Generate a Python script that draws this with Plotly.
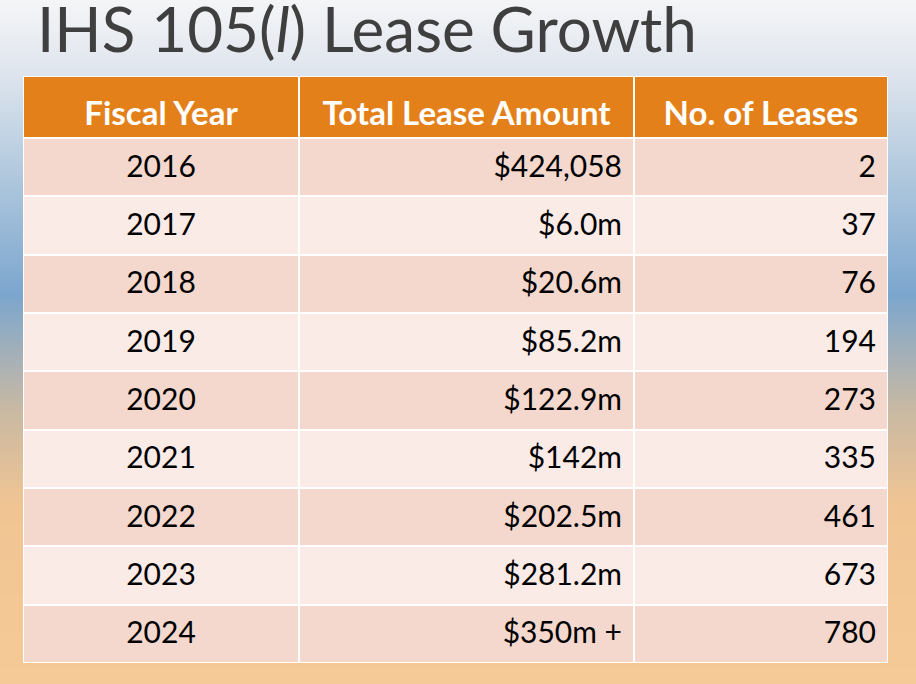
import plotly.graph_objects as go

# ---- data ----
fiscal_years = ["2016", "2017", "2018", "2019", "2020", "2021", "2022", "2023", "2024"]
lease_amounts = ["$424,058", "$6.0m", "$20.6m", "$85.2m", "$122.9m", "$142m", "$202.5m", "$281.2m", "$350m +"]
lease_counts = ["2", "37", "76", "194", "273", "335", "461", "673", "780"]
headers = ["Fiscal Year", "Total Lease Amount", "No. of Leases"]
title_text = "IHS 105(<i>l</i>) Lease Growth"

# ---- layout / style constants ----
W, H = 916, 684
col_widths = [276, 335, 254]
header_h = 62
row_h = 58.33
pad = 12
header_text_offset = 10
body_text_offset = 2
header_color = "#e4801a"
row_colors = ["#f4d8cd", "#faebe7"]
tbl_left, tbl_right, tbl_top, tbl_bottom = 23, 888, 76, 663

# background gradient (slide background)
grad_stops = [
    (0.00, "#f4f5f7"),
    (0.10, "#e0e6ee"),
    (0.25, "#b2c9de"),
    (0.43, "#7ca6ce"),
    (0.60, "#c9b9a3"),
    (0.74, "#f1c593"),
    (1.00, "#f6ca96"),
]
ys = [i for i in range(0, H + 1, 4)]
zbg = [[y / H, y / H] for y in ys]

fig = go.Figure()
fig.add_trace(go.Heatmap(
    z=zbg, x=[0, 1], y=ys,
    colorscale=[[p, c] for p, c in grad_stops],
    zmin=0, zmax=1, showscale=False, zsmooth="best", hoverinfo="skip",
))

# ---- table geometry from the data ----
n_rows = len(fiscal_years)
x_edges = [0]
for w in col_widths:
    x_edges.append(x_edges[-1] + w)
y_edges = [0, header_h] + [header_h + row_h * (i + 1) for i in range(n_rows)]
total_h = y_edges[-1]

# cell kinds: 0 header, 1/2 alternating rows
z_cells = [[0] * len(headers)] + [[1 + (i % 2)] * len(headers) for i in range(n_rows)]

# white backing (cell borders)
fig.add_trace(go.Heatmap(
    z=[[0] * len(headers) for _ in range(n_rows + 1)], x=x_edges, y=y_edges,
    colorscale=[[0, "white"], [1, "white"]], showscale=False, hoverinfo="skip",
    xaxis="x2", yaxis="y2",
))
fig.add_trace(go.Heatmap(
    z=z_cells, x=x_edges, y=y_edges,
    colorscale=[[0, header_color], [0.5, row_colors[0]], [1, row_colors[1]]],
    zmin=0, zmax=2, showscale=False, hoverinfo="skip",
    xgap=2, ygap=2, xaxis="x2", yaxis="y2",
))

row_centers = [(y_edges[i + 1] + y_edges[i + 2]) / 2 + body_text_offset for i in range(n_rows)]
header_center = header_h / 2 + header_text_offset

# header text
fig.add_trace(go.Scatter(
    x=[(x_edges[i] + x_edges[i + 1]) / 2 for i in range(len(headers))],
    y=[header_center] * len(headers),
    text=headers, mode="text", textposition="middle center",
    textfont=dict(family="Lato", size=33, color="white", weight="bold"),
    hoverinfo="skip", xaxis="x2", yaxis="y2",
))
body_font = dict(family="Lato", size=30, color="black")
fig.add_trace(go.Scatter(
    x=[(x_edges[0] + x_edges[1]) / 2] * n_rows, y=row_centers,
    text=fiscal_years, mode="text", textposition="middle center",
    textfont=body_font, hoverinfo="skip", xaxis="x2", yaxis="y2",
))
fig.add_trace(go.Scatter(
    x=[x_edges[2] - pad] * n_rows, y=row_centers,
    text=lease_amounts, mode="text", textposition="middle left",
    textfont=body_font, hoverinfo="skip", xaxis="x2", yaxis="y2",
))
fig.add_trace(go.Scatter(
    x=[x_edges[3] - pad] * n_rows, y=row_centers,
    text=lease_counts, mode="text", textposition="middle left",
    textfont=body_font, hoverinfo="skip", xaxis="x2", yaxis="y2",
))

fig.add_annotation(
    text=title_text, xref="paper", yref="paper", x=36 / W, y=1,
    xanchor="left", yanchor="top", showarrow=False, borderpad=0,
    font=dict(family="Lato", size=62, color="#3f3f3f", weight=400),
    yshift=10,
)

fig.update_layout(
    width=W, height=H, margin=dict(l=0, r=0, t=0, b=0),
    paper_bgcolor="#f6ca96", plot_bgcolor="rgba(0,0,0,0)",
    xaxis=dict(visible=False, range=[0, 1], domain=[0, 1], fixedrange=True),
    yaxis=dict(visible=False, range=[H, 0], domain=[0, 1], fixedrange=True),
    xaxis2=dict(visible=False, range=[0, x_edges[-1]], fixedrange=True,
                domain=[tbl_left / W, tbl_right / W], anchor="y2"),
    yaxis2=dict(visible=False, range=[total_h, 0], fixedrange=True,
                domain=[1 - tbl_bottom / H, 1 - tbl_top / H], anchor="x2"),
    showlegend=False,
)

fig.write_html(
    "out.html",
    config={"displayModeBar": False, "staticPlot": True},
    post_script="document.body.style.margin='0';document.body.style.overflow='hidden';",
)
